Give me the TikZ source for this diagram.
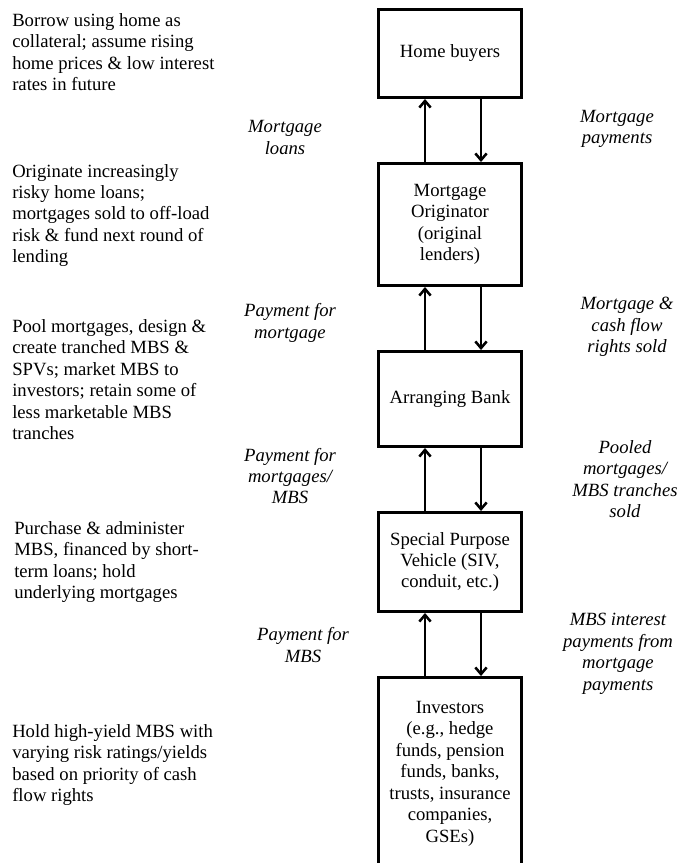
\documentclass[tikz,border=0pt]{standalone}
\usepackage{fontspec}
\setmainfont{Liberation Serif}
\usetikzlibrary{arrows.meta,positioning}

\begin{document}
\begin{tikzpicture}[x=0.75pt,y=0.75pt,>={Straight Barb[length=5pt,width=8.5pt]},node distance=47.3pt,
  party/.style={draw,line width=2.2pt,minimum width=107.25pt,align=center,inner sep=2pt,font=\fontsize{14}{16.1}\selectfont},
  desc/.style={anchor=west,align=left,inner sep=0pt,font=\fontsize{14}{16.1}\selectfont},
  flow/.style={align=center,inner sep=0pt,font=\fontsize{14}{16.1}\selectfont\itshape},
  link/.style={->,line width=1.9pt}]
\useasboundingbox (0,0) rectangle (678,-863);
% chain of parties
\node[party,minimum height=66pt] (hb) at (450,-53.5) {Home buyers};
\node[party,minimum height=91.5pt,below=of hb] (orig) {Mortgage\\Originator\\(original\\lenders)};
\node[party,minimum height=71.25pt,below=of orig] (arr) {Arranging Bank};
\node[party,minimum height=74.25pt,below=of arr] (spv) {Special Purpose\\Vehicle (SIV,\\conduit, etc.)};
\node[party,minimum height=144pt,below=of spv] (inv) {Investors\\(e.g., hedge\\funds, pension\\funds, banks,\\trusts, insurance\\companies,\\GSEs)};
% money up, assets down
\draw[link] ([xshift=-18.75pt]orig.north) -- ([xshift=-18.75pt]hb.south); \draw[link] ([xshift=23.25pt]hb.south) -- ([xshift=23.25pt]orig.north);
\draw[link] ([xshift=-18.75pt]arr.north) -- ([xshift=-18.75pt]orig.south); \draw[link] ([xshift=23.25pt]orig.south) -- ([xshift=23.25pt]arr.north);
\draw[link] ([xshift=-18.75pt]spv.north) -- ([xshift=-18.75pt]arr.south); \draw[link] ([xshift=23.25pt]arr.south) -- ([xshift=23.25pt]spv.north);
\draw[link] ([xshift=-18.75pt]inv.north) -- ([xshift=-18.75pt]spv.south); \draw[link] ([xshift=23.25pt]spv.south) -- ([xshift=23.25pt]inv.north);
% flow labels
\node[flow] (pay1) at (285,-137.5) {Mortgage\\loans};
\node[flow] (get1) at (617,-129) {Mortgage\\payments};
\node[flow] (pay2) at (290,-323) {Payment for\\mortgage};
\node[flow] (get2) at (627,-327) {Mortgage \&\\cash flow\\rights sold};
\node[flow] (pay3) at (290,-476) {Payment for\\mortgages/\\MBS};
\node[flow] (get3) at (625,-479) {Pooled\\mortgages/\\MBS tranches\\sold};
\node[flow] (pay4) at (303,-645) {Payment for\\MBS};
\node[flow] (get4) at (618,-654) {MBS interest\\payments from\\mortgage\\payments};
% roles
\node[desc] (role1) at (12,-52) {Borrow using home as\\collateral; assume rising\\home prices \& low interest\\rates in future};
\node[desc] (role2) at (12,-215.5) {Originate increasingly\\risky home loans;\\mortgages sold to off-load\\risk \& fund next round of\\lending};
\node[desc] (role3) at (12,-379.5) {Pool mortgages, design \&\\create tranched MBS \&\\SPVs; market MBS to\\investors; retain some of\\less marketable MBS\\tranches};
\node[desc] (role4) at (14,-562) {Purchase \& administer\\MBS, financed by short-\\term loans; hold\\underlying mortgages};
\node[desc] (role5) at (12,-765) {Hold high-yield MBS with\\varying risk ratings/yields\\based on priority of cash\\flow rights};
\end{tikzpicture}
\end{document}
